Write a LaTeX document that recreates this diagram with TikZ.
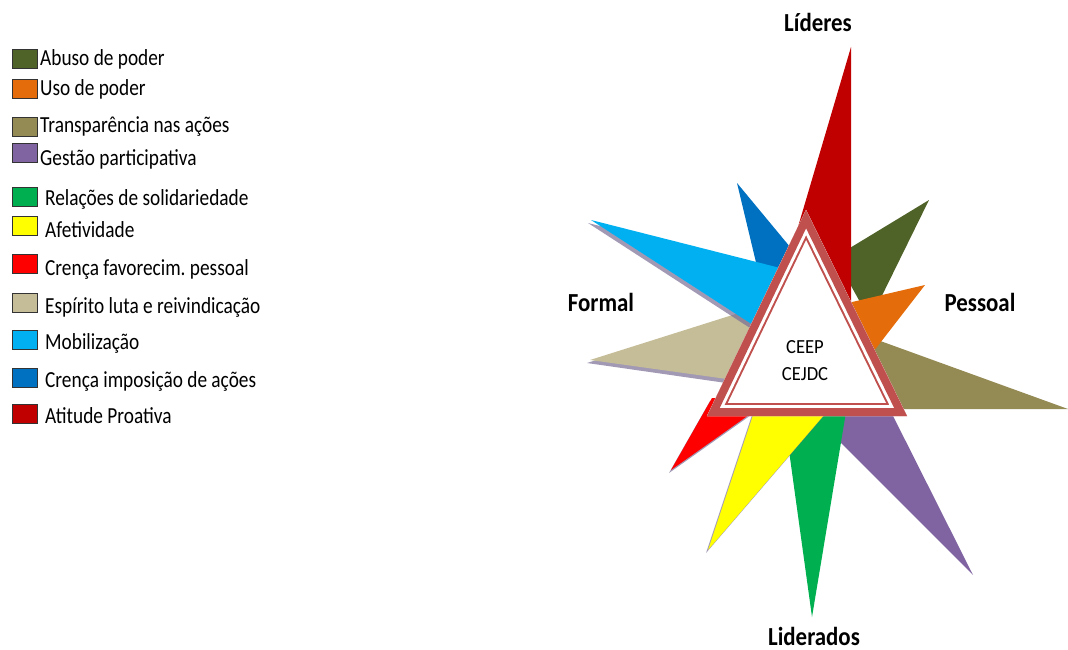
\documentclass[tikz,border=0pt]{standalone}
\usepackage{fontspec}
\setmainfont{Carlito}
\newfontfamily\legfont{Carlito}[FakeStretch=0.84]
\newfontfamily\labfont{Carlito}[FakeStretch=0.88]
\newfontfamily\cenfont{Carlito}[FakeStretch=0.93]
\frenchspacing
\definecolor{cAbuso}{HTML}{4F6228}
\definecolor{cUso}{HTML}{E46C0A}
\definecolor{cTransp}{HTML}{948A54}
\definecolor{cGestao}{HTML}{8064A2}
\definecolor{cRelac}{HTML}{00B050}
\definecolor{cAfet}{HTML}{FFFF00}
\definecolor{cCrFav}{HTML}{FF0000}
\definecolor{cEsp}{HTML}{C4BD97}
\definecolor{cMobil}{HTML}{00B0F0}
\definecolor{cCrImp}{HTML}{0070C0}
\definecolor{cAtit}{HTML}{C00000}
\definecolor{cBand}{HTML}{C0504D}
\definecolor{cShadow}{HTML}{7A6E96}
\begin{document}
\begin{tikzpicture}[x=1pt,y=-1pt,
  legbox/.style={draw=black!80,line width=0.6pt,minimum width=25pt,minimum height=19pt,inner sep=0pt,anchor=west},
  legtext/.style={font=\legfont\fontsize{23}{26}\selectfont,anchor=base west,inner sep=0pt},
  axislabel/.style={font=\labfont\bfseries\fontsize{26}{29}\selectfont,anchor=base,inner sep=0pt},
  centertext/.style={font=\cenfont\fontsize{20}{23}\selectfont,anchor=base,inner sep=0pt},
  shadowfill/.style={fill=cShadow,fill opacity=0.7}]
\useasboundingbox (0,0) rectangle (1068,650);

% ---------- legend ----------
\node[legbox,fill=cAbuso] (b1) at (12,59) {};
\node[legtext] (t1) at (40,66) {Abuso de poder};
\node[legbox,fill=cUso] (b2) at (12,89) {};
\node[legtext] (t2) at (40,96) {Uso de poder};
\node[legbox,fill=cTransp] (b3) at (12,127) {};
\node[legtext] (t3) at (40,133) {Transparência nas ações};
\node[legbox,fill=cGestao] (b4) at (12,153) {};
\node[legtext] (t4) at (40,165) {Gestão participativa};
\node[legbox,fill=cRelac] (b5) at (12,197) {};
\node[legtext] (t5) at (45,205) {Relações de solidariedade};
\node[legbox,fill=cAfet] (b6) at (12,226) {};
\node[legtext] (t6) at (45,237) {Afetividade};
\node[legbox,fill=cCrFav] (b7) at (12,264) {};
\node[legtext] (t7) at (45,275) {Crença favorecim. pessoal};
\node[legbox,fill=cEsp] (b8) at (12,303) {};
\node[legtext] (t8) at (45,313) {Espírito luta e reivindicação};
\node[legbox,fill=cMobil] (b9) at (12,340) {};
\node[legtext] (t9) at (45,349) {Mobilização};
\node[legbox,fill=cCrImp] (b10) at (12,378) {};
\node[legtext] (t10) at (45,387) {Crença imposição de ações};
\node[legbox,fill=cAtit] (b11) at (12,414) {};
\node[legtext] (t11) at (45,423) {Atitude Proativa};

% ---------- spikes ----------
\fill[cCrImp] (737,183) -- (765,300) -- (805,265) -- cycle;
\fill[shadowfill] (587,363) -- (778,303) -- (768,389) -- cycle;
\fill[cEsp] (590,360) -- (780,300) -- (770,385) -- cycle;
\fill[shadowfill] (588,223) -- (797,276) -- (767,339) -- cycle;
\fill[cMobil] (591,220) -- (800,273) -- (770,336) -- cycle;
\fill[cAbuso] (929,200) -- (835,257) -- (870,320) -- cycle;
\fill[cAtit] (851,47) -- (851,305) -- (775,305) -- cycle;
\fill[cTransp] (1068,409) -- (850,330) -- (860,409) -- cycle;
\fill[cUso] (925,285) -- (835,306) -- (870,356) -- cycle;
\fill[cGestao] (973,575) -- (798,400) -- (885,400) -- cycle;
\fill[cRelac] (812,617) -- (782,400) -- (848,400) -- cycle;
\fill[shadowfill] (706,553) -- (756,403) -- (835,403) -- cycle;
\fill[cAfet] (708,550) -- (758,400) -- (837,400) -- cycle;
\fill[shadowfill] (669,473) -- (710,401) -- (768,403) -- cycle;
\fill[cCrFav] (671,470) -- (712,398) -- (770,400) -- cycle;

% ---------- central triangle ----------
\coordinate (ta) at (806,210);
\coordinate (tl) at (707,416);
\coordinate (tr) at (907,416);
\fill[white] (ta) -- (tl) -- (tr) -- cycle;
\begin{scope}
  \clip (ta) -- (tl) -- (tr) -- cycle;
  \draw[cBand,line width=26pt,line join=miter] (ta) -- (tl) -- (tr) -- cycle;
  \draw[white,line width=22pt,line join=miter] (ta) -- (tl) -- (tr) -- cycle;
  \draw[cBand,line width=16pt,line join=miter] (ta) -- (tl) -- (tr) -- cycle;
\end{scope}
\node[centertext] (ceep) at (805,353) {CEEP};
\node[centertext] (cejdc) at (805,380) {CEJDC};

% ---------- axis labels ----------
\node[axislabel] (lideres) at (818,32) {Líderes};
\node[axislabel] (formal) at (601,311) {Formal};
\node[axislabel] (pessoal) at (980,311) {Pessoal};
\node[axislabel] (liderados) at (814,645) {Liderados};
\end{tikzpicture}
\end{document}
